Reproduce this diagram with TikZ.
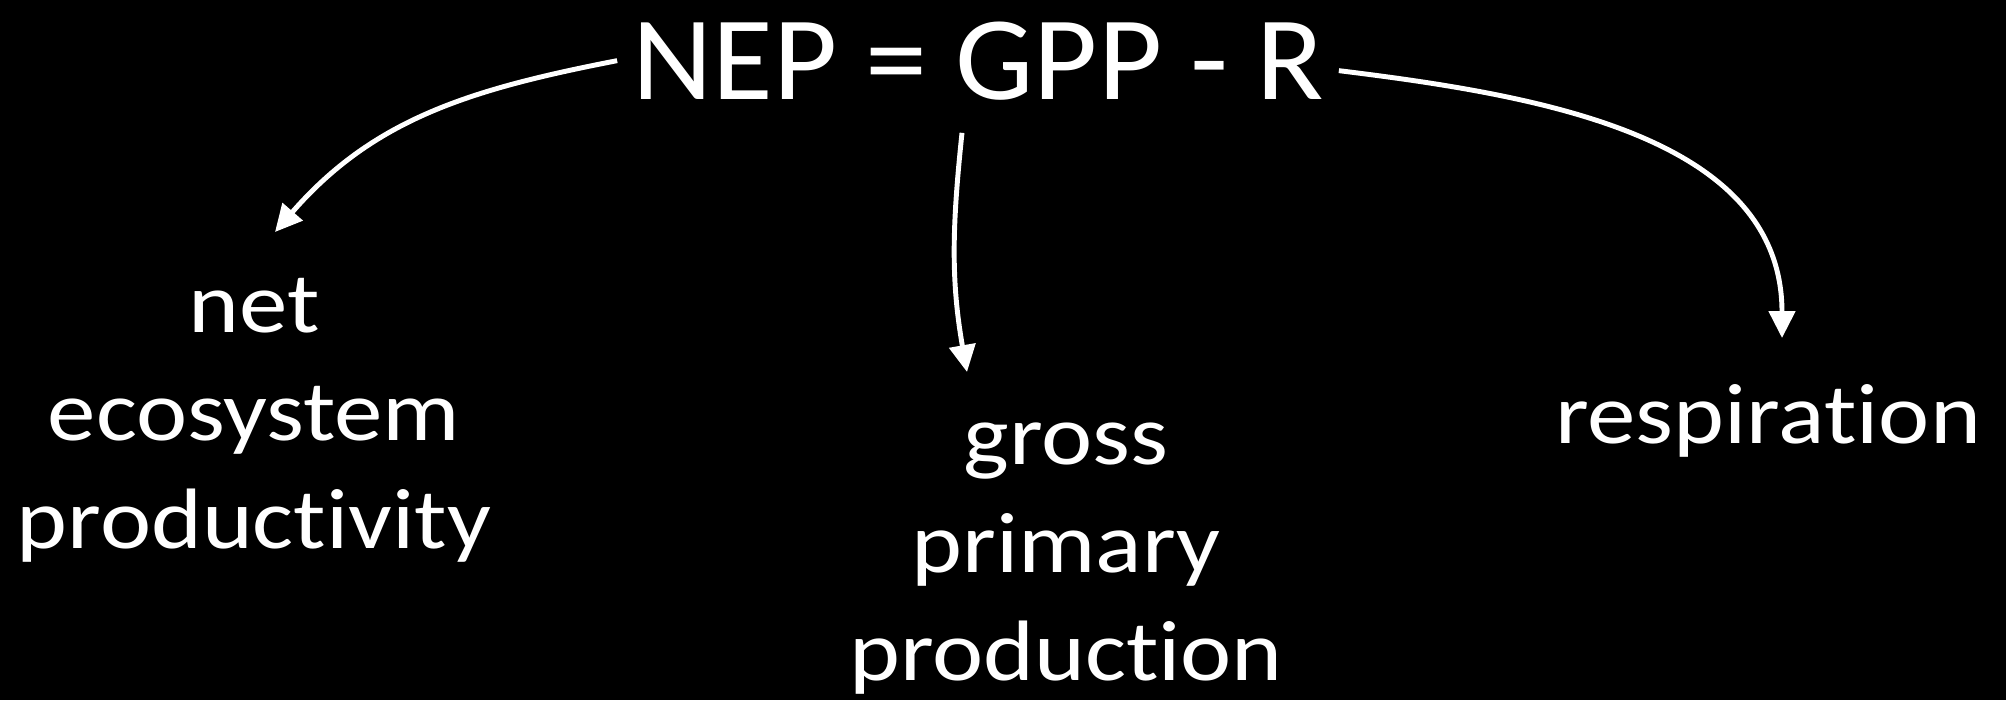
\documentclass[tikz,border=0pt]{standalone}
\usepackage{fontspec}
\setmainfont{Carlito}[Ligatures=NoCommon]
\newfontfamily\termfont{Carlito}[FakeStretch=1.13,Ligatures=NoCommon]
\newfontfamily\eqnfont{Carlito}[FakeStretch=1.04,Ligatures=NoCommon]
\usetikzlibrary{positioning,arrows.meta}
\tikzset{
    term/.style={text=white,align=center,inner sep=0pt,
        font=\termfont\fontsize{24.4}{30.7}\selectfont},
    eqn/.style={text=white,inner sep=0pt,outer sep=0.15cm,
        font=\eqnfont\fontsize{34}{40}\selectfont},
    link/.style={draw=white,line width=1.4pt,
        -{Triangle[width=0.26cm,length=0.27cm]}}
}

\begin{document}
\begin{tikzpicture}
    % black slide behind everything
    \fill[black] (0,0) rectangle (20.06,-7.0);
    \useasboundingbox (0,0) rectangle (20.06,-7.0);
    % the equation and its three terms
    \node[eqn,anchor=base] (nep) at (9.78,-0.99) {NEP = GPP - R};
    \node[term,anchor=base] (net) at (2.54,-5.48) {net\\ecosystem\\productivity};
    \node[term,anchor=base] (gross) at (10.66,-6.80) {gross\\primary\\production};
    \node[term,anchor=base] (resp) at (17.68,-4.43) {respiration};
    % arrow tips above the terms
    \coordinate (netTip) at (2.75,-2.32);
    \coordinate (grossTip) at (9.67,-3.72);
    \coordinate (respTip) at (17.82,-3.38);
    % draw the arrows
    \draw[link] (nep.west) to[out=191,in=49] (netTip);
    \draw[link] ([shift={(-0.16,-0.18)}]nep.south) to[out=264,in=100] (grossTip);
    \draw[link] ([yshift=-0.1cm]nep.east) to[out=-7,in=90] (respTip);
\end{tikzpicture}
\end{document}
